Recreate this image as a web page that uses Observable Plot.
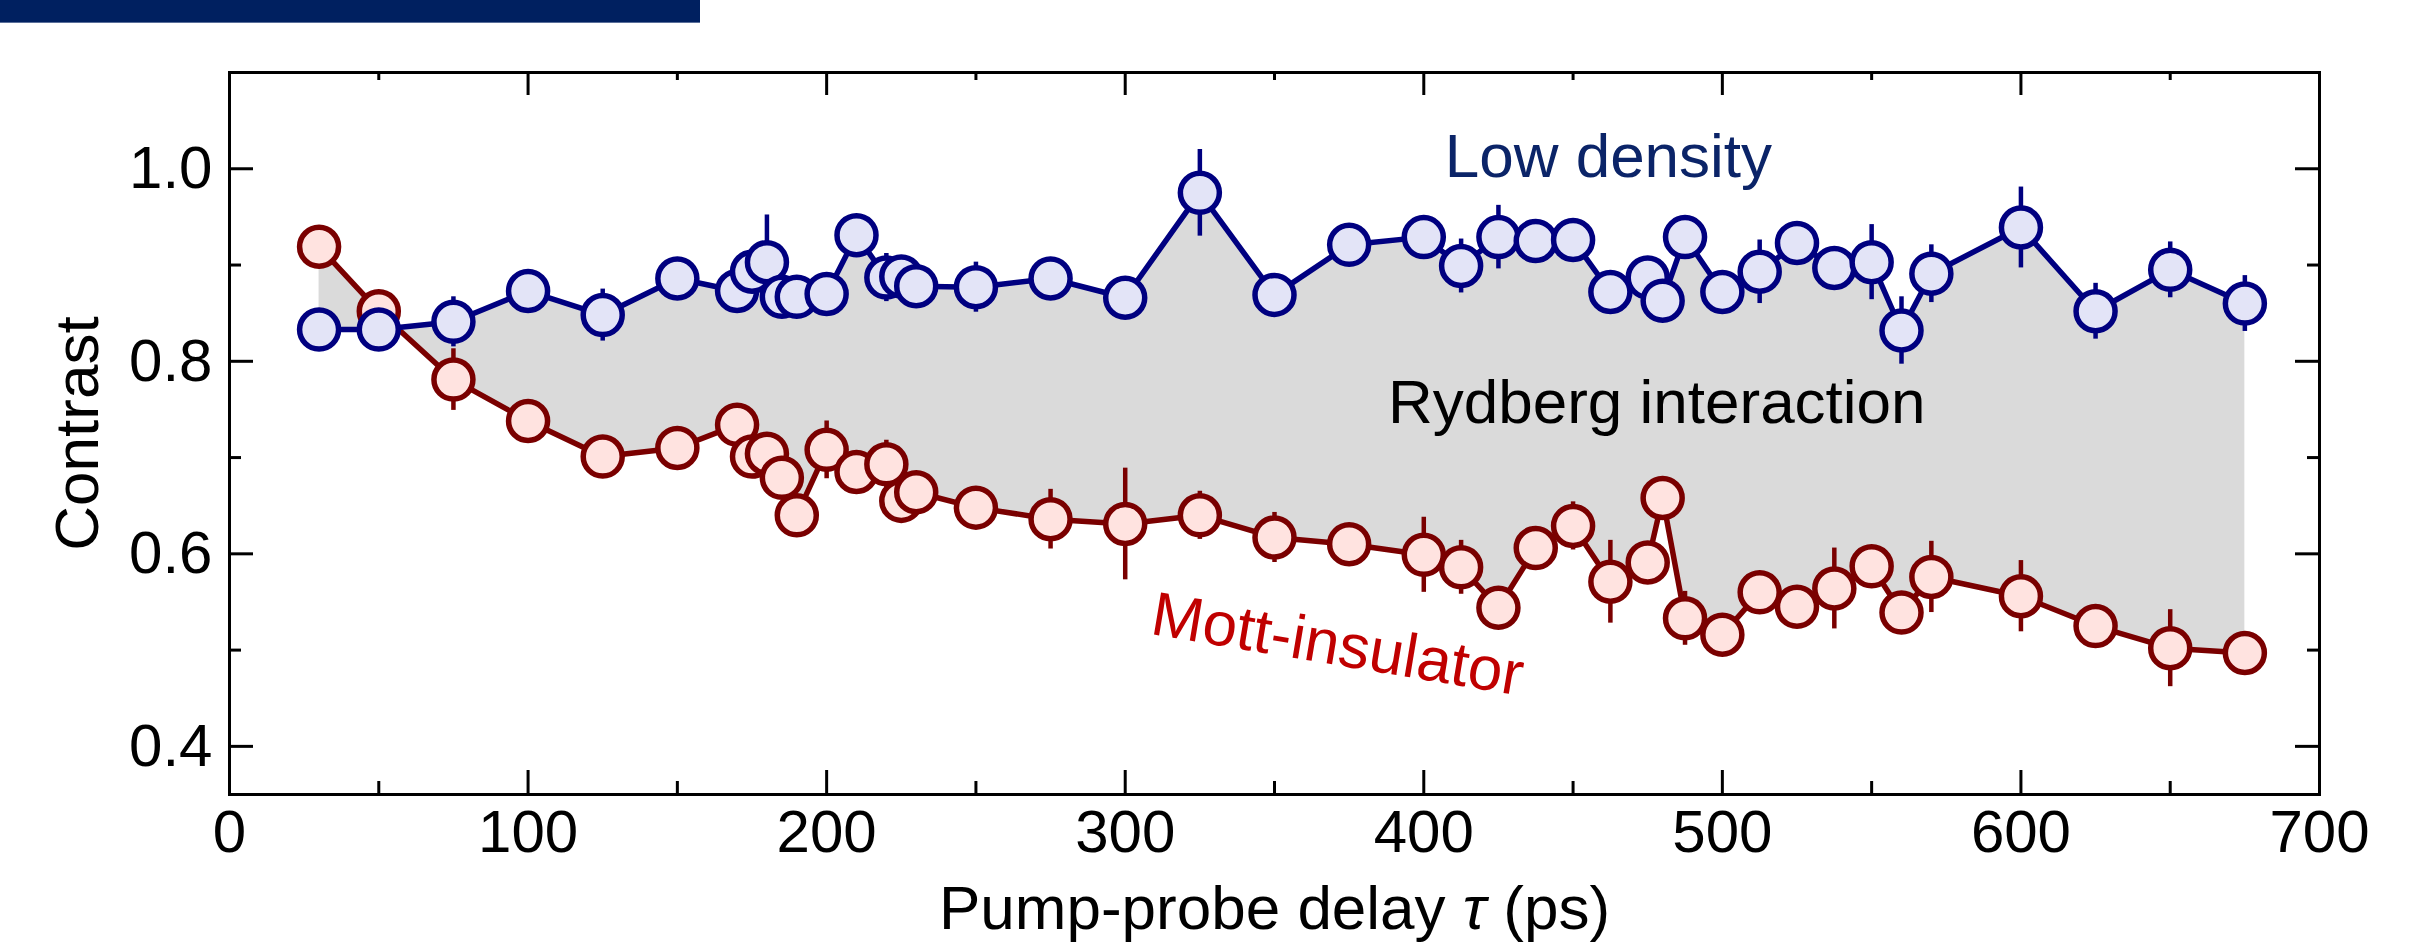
<!DOCTYPE html>
<html>
<head>
<meta charset="utf-8">
<script src="https://cdn.jsdelivr.net/npm/d3@7"></script>
<script src="https://cdn.jsdelivr.net/npm/@observablehq/plot@0.6"></script>
<style>
  body { margin: 0; background: #fff; }
  #wrap { position: relative; width: 2429px; height: 946px; }
  #banner { position: absolute; left: 0; top: 0; width: 700px; height: 23px; background: #002060; border-bottom: 1px solid #5a6f9a; box-sizing: border-box; }
</style>
</head>
<body>
<div id="wrap"><div id="chart"></div><div id="banner"></div></div>
<script>
// ---- data ----
const delays = [30, 50, 75, 100, 125, 150, 170, 175, 180, 185, 190, 200, 210, 220, 225, 230, 250, 275, 300, 325, 350, 375, 400, 412.5, 425, 437.5, 450, 462.5, 475, 480, 487.5, 500, 512.5, 525, 537.5, 550, 560, 570, 600, 625, 650, 675];
const lowDensity = [0.833, 0.833, 0.841, 0.873, 0.848, 0.886, 0.873, 0.893, 0.903, 0.867, 0.867, 0.870, 0.931, 0.887, 0.888, 0.878, 0.877, 0.886, 0.866, 0.975, 0.869, 0.921, 0.929, 0.899, 0.929, 0.925, 0.926, 0.872, 0.887, 0.863, 0.929, 0.872, 0.893, 0.923, 0.897, 0.903, 0.832, 0.891, 0.939, 0.852, 0.895, 0.860];
const lowDensityErr = [0.012, 0.012, 0.026, 0.015, 0.027, 0.015, 0.015, 0.015, 0.049, 0.015, 0.015, 0.015, 0.015, 0.025, 0.015, 0.015, 0.026, 0.015, 0.015, 0.045, 0.015, 0.015, 0.015, 0.028, 0.033, 0.015, 0.015, 0.015, 0.015, 0.015, 0.015, 0.015, 0.033, 0.015, 0.015, 0.039, 0.035, 0.030, 0.042, 0.029, 0.029, 0.029];
const mottInsulator = [0.919, 0.852, 0.781, 0.738, 0.701, 0.710, 0.734, 0.701, 0.704, 0.679, 0.640, 0.708, 0.685, 0.693, 0.655, 0.664, 0.648, 0.636, 0.631, 0.640, 0.617, 0.610, 0.599, 0.586, 0.544, 0.606, 0.629, 0.571, 0.591, 0.658, 0.533, 0.516, 0.560, 0.545, 0.564, 0.587, 0.539, 0.576, 0.556, 0.525, 0.502, 0.497];
const mottInsulatorErr = [0.012, 0.012, 0.032, 0.015, 0.015, 0.015, 0.015, 0.015, 0.015, 0.015, 0.015, 0.030, 0.015, 0.025, 0.015, 0.015, 0.015, 0.031, 0.058, 0.025, 0.026, 0.015, 0.039, 0.028, 0.015, 0.015, 0.025, 0.043, 0.015, 0.015, 0.028, 0.015, 0.015, 0.015, 0.042, 0.015, 0.015, 0.037, 0.037, 0.015, 0.040, 0.015];

const xTicksMajor = [0, 100, 200, 300, 400, 500, 600, 700];
const xTicksMinor = [50, 150, 250, 350, 450, 550, 650];
const yTicksMajor = [0.4, 0.6, 0.8, 1.0];
const yTicksMinor = [0.5, 0.7, 0.9];
const xDomain = [0, 700];
const yDomain = [0.35, 1.1];

const xLabel = "Pump-probe delay τ (ps)";
const yLabel = "Contrast";
const annotationText = ["Low density", "Rydberg interaction", "Mott-insulator"];
const annotationX = [407, 388, 308];
const annotationY = [0.991, 0.736, 0.517];
const annotationRotate = [0, 0, 9.5];
const annotationColor = ["#0B2468", "#000000", "#C00000"];

// ---- layout ----
const W = 2429, H = 946;
const mL = 229, mR = 110, mT = 72, mB = 152;
const innerW = W - mL - mR, innerH = H - mT - mB;

const rows = delays.map((t, i) => ({
  t,
  low: lowDensity[i], lowErr: lowDensityErr[i],
  mott: mottInsulator[i], mottErr: mottInsulatorErr[i]
}));
const annotations = annotationText.map((text, i) => ({
  text, x: annotationX[i], y: annotationY[i], rotate: annotationRotate[i], color: annotationColor[i]
}));

const red = "#7A0000", redFill = "#FFE3E0";
const blue = "#000080", blueFill = "#E3E4F7";
const font = "'Liberation Sans', Arial, Helvetica, sans-serif";

const chart = Plot.plot({
  width: W, height: H,
  marginLeft: mL, marginRight: mR, marginTop: mT, marginBottom: mB,
  style: { fontFamily: font, background: "#fff", color: "#000" },
  x: { domain: xDomain },
  y: { domain: yDomain },
  marks: [
    Plot.areaY(rows, { x: "t", y1: "mott", y2: "low", fill: "#DADADA" }),
    // Mott insulator series
    Plot.line(rows, { x: "t", y: "mott", stroke: red, strokeWidth: 5.5 }),
    Plot.ruleX(rows, { x: "t", y1: d => d.mott - d.mottErr, y2: d => d.mott + d.mottErr, stroke: red, strokeWidth: 4.5 }),
    Plot.dot(rows, { x: "t", y: "mott", r: 19.5, fill: redFill, stroke: red, strokeWidth: 5.5 }),
    // Low density series
    Plot.line(rows, { x: "t", y: "low", stroke: blue, strokeWidth: 5.5 }),
    Plot.ruleX(rows, { x: "t", y1: d => d.low - d.lowErr, y2: d => d.low + d.lowErr, stroke: blue, strokeWidth: 4.5 }),
    Plot.dot(rows, { x: "t", y: "low", r: 19.5, fill: blueFill, stroke: blue, strokeWidth: 5.5 }),
    // annotations
    Plot.text(annotations, { x: "x", y: "y", text: "text", rotate: "rotate", fill: d => d.color, textAnchor: "start", lineAnchor: "bottom", fontSize: 62 }),
    // inward ticks: left / right
    Plot.tickY(yTicksMajor, { y: d => d, insetRight: innerW - 24, stroke: "#000", strokeWidth: 3 }),
    Plot.tickY(yTicksMinor, { y: d => d, insetRight: innerW - 12, stroke: "#000", strokeWidth: 3 }),
    Plot.tickY(yTicksMajor, { y: d => d, insetLeft: innerW - 24, stroke: "#000", strokeWidth: 3 }),
    Plot.tickY(yTicksMinor, { y: d => d, insetLeft: innerW - 12, stroke: "#000", strokeWidth: 3 }),
    // inward ticks: bottom / top
    Plot.tickX(xTicksMajor, { x: d => d, insetTop: innerH - 24, stroke: "#000", strokeWidth: 3 }),
    Plot.tickX(xTicksMinor, { x: d => d, insetTop: innerH - 13, stroke: "#000", strokeWidth: 3 }),
    Plot.tickX(xTicksMajor, { x: d => d, insetBottom: innerH - 23, stroke: "#000", strokeWidth: 3 }),
    Plot.tickX(xTicksMinor, { x: d => d, insetBottom: innerH - 8, stroke: "#000", strokeWidth: 3 }),
    Plot.frame({ stroke: "#000", strokeWidth: 3 }),
    // tick labels
    Plot.axisX({ ticks: xTicksMajor, tickSize: 0, tickPadding: 15, tickFormat: d => String(d), fontSize: 60, label: null }),
    Plot.axisY({ ticks: yTicksMajor, tickSize: 0, tickPadding: 17, tickFormat: d3.format(".1f"), fontSize: 60, label: null }),
    // axis titles
    Plot.text([xLabel], { frameAnchor: "bottom", dy: 134, text: d => d, lineAnchor: "bottom", textAnchor: "middle", fontSize: 62, fill: "#000" }),
    Plot.text([yLabel], { frameAnchor: "left", dx: -132, text: d => d, rotate: -90, lineAnchor: "bottom", textAnchor: "middle", fontSize: 62, fill: "#000" })
  ]
});

// italic tau in the x-axis title
chart.querySelectorAll("text").forEach(t => {
  if (t.textContent === xLabel) {
    const [before, after] = xLabel.split("τ");
    while (t.firstChild) t.removeChild(t.firstChild);
    t.appendChild(document.createTextNode(before));
    const ts = document.createElementNS("http://www.w3.org/2000/svg", "tspan");
    ts.setAttribute("font-style", "italic");
    ts.textContent = "τ";
    t.appendChild(ts);
    t.appendChild(document.createTextNode(after));
  }
});

document.getElementById("chart").appendChild(chart);
</script>
</body>
</html>
